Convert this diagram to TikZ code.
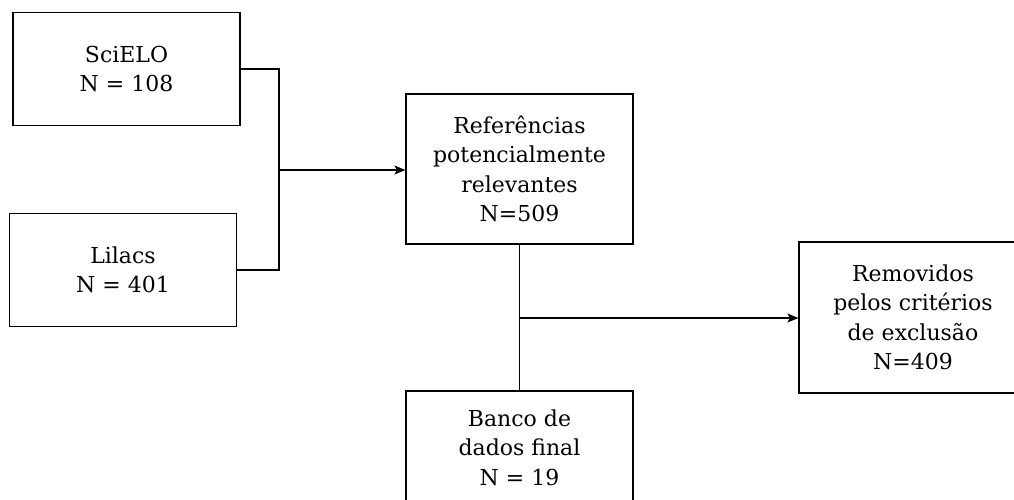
\documentclass[tikz,border=0pt]{standalone}
\usepackage{fontspec}
\setmainfont{DejaVu Serif}
\usetikzlibrary{arrows.meta}
\begin{document}
\begin{tikzpicture}[x=1pt,y=-1pt,
  box/.style={draw, line width=1.2pt, align=center, inner sep=0pt,
    font=\fontsize{22}{29.5}\selectfont},
  conn/.style={line width=1.2pt},
  arr/.style={conn, -{Stealth[length=11pt,width=9pt,inset=2.5pt]}}]
\useasboundingbox (0,0) rectangle (1014,499);
\node[box, minimum width=227pt, minimum height=113pt] (sci) at (126.5,69) {SciELO\\N = 108};
\node[box, minimum width=227pt, minimum height=113pt] (lil) at (123,270) {Lilacs\\N = 401};
\node[box, minimum width=227pt, minimum height=150pt] (ref) at (519.5,169) {Referências\\potencialmente\\relevantes\\N=509};
\node[box, minimum width=228pt, minimum height=151pt] (rem) at (913,317.5) {Removidos\\pelos critérios\\de exclusão\\N=409};
\node[box, minimum width=227pt, minimum height=113pt] (ban) at (519.5,447.5) {Banco de\\dados final\\N = 19};
\coordinate (j) at (279,170);
\coordinate (k) at (519.5,318);
\draw[conn] (sci.east) -| (j);
\draw[conn] (lil.east) -| (j);
\draw[arr] (j) -- (j -| ref.west);
\draw[conn] (ref.south) -- (ban.north);
\draw[arr] (k) -- (k -| rem.west);
\end{tikzpicture}
\end{document}
